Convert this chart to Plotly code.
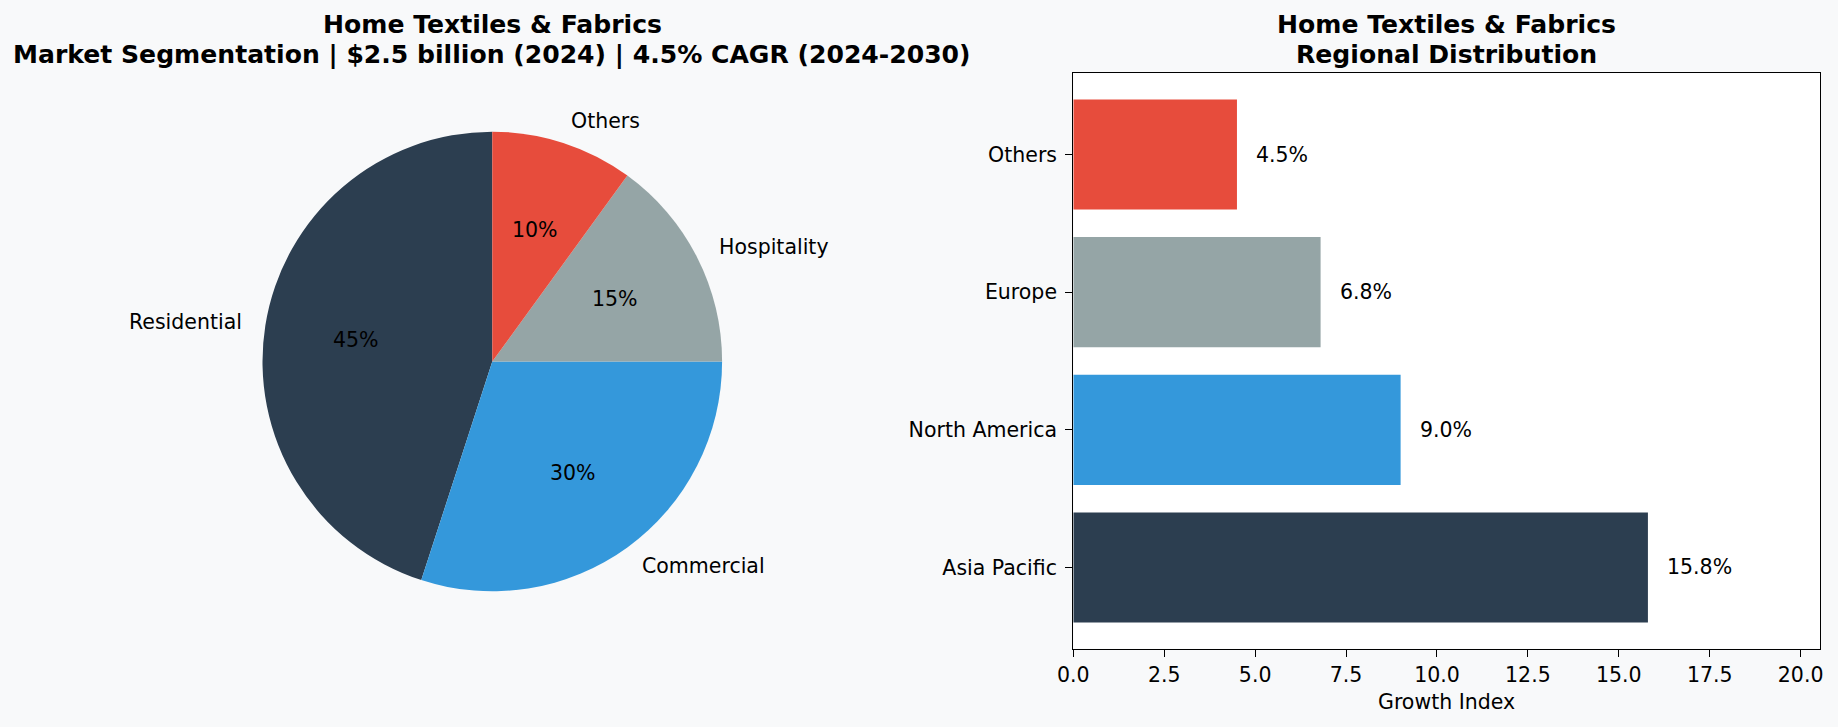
import math
import plotly.graph_objects as go

# ---- data ----
segments = ["Residential", "Commercial", "Hospitality", "Others"]
segment_share = [45, 30, 15, 10]
segment_colors = ["#2c3e50", "#3498db", "#95a5a6", "#e74c3c"]

regions = ["Asia Pacific", "North America", "Europe", "Others"]
region_growth = [15.8, 9.0, 6.8, 4.5]
region_colors = ["#2c3e50", "#3498db", "#95a5a6", "#e74c3c"]

x_ticks = [0, 2.5, 5, 7.5, 10, 12.5, 15, 17.5, 20]

title_left = ["Home Textiles & Fabrics",
              "Market Segmentation | $2.5 billion (2024) | 4.5% CAGR (2024-2030)"]
title_right = ["Home Textiles & Fabrics", "Regional Distribution"]

# ---- layout geometry (pixels) ----
W, H = 1838, 727
FONT = "DejaVu Sans"
LBL = 20.5
TTL = 25.1
BG = "#f8f9fa"

pcx, pcy, pr = 492.3, 361.5, 229.8           # pie centre / radius
ax_l, ax_r, ax_t, ax_b = 1073.3, 1820.3, 73.3, 648.7  # bar axes frame


def px(x):
    return x / W


def py(y):
    return 1 - y / H


total = sum(segment_share)

fig = go.Figure()

# plotly's counterclockwise layout ends the first slice at the rotation angle,
# so rotate back by the first slice so it starts at 12 o'clock (like matplotlib)
fig.add_trace(go.Pie(
    labels=segments, values=segment_share, sort=False,
    direction="counterclockwise", rotation=-360.0 * segment_share[0] / total,
    marker=dict(colors=segment_colors, line=dict(width=0)),
    textinfo="none", hoverinfo="label+percent",
    domain=dict(x=[px(pcx - pr), px(pcx + pr)], y=[py(pcy + pr), py(pcy - pr)]),
    showlegend=False, automargin=False,
))

fig.add_trace(go.Bar(
    x=region_growth, y=regions, orientation="h",
    marker=dict(color=region_colors, line=dict(width=0)),
    width=0.8, showlegend=False, xaxis="x", yaxis="y",
))

annotations = []
# pie labels (outside, 1.1 r) and percentages (inside, 0.6 r)
start = 90.0
for name, v in zip(segments, segment_share):
    sweep = 360.0 * v / total
    mid = math.radians(start + sweep / 2)
    start += sweep
    cx, cy = math.cos(mid), math.sin(mid)
    lx, ly = pcx + 1.1 * pr * cx, pcy - 1.1 * pr * cy
    annotations.append(dict(
        x=px(lx), y=py(ly), xref="paper", yref="paper", text=name,
        showarrow=False, xanchor="left" if cx > 0 else "right", yanchor="middle",
        font=dict(family=FONT, size=LBL, color="black"), borderpad=0,
    ))
    tx, ty = pcx + 0.6 * pr * cx, pcy - 0.6 * pr * cy
    annotations.append(dict(
        x=px(tx), y=py(ty), xref="paper", yref="paper", text=f"{v / total * 100:.0f}%",
        showarrow=False, xanchor="center", yanchor="middle",
        font=dict(family=FONT, size=LBL, color="black"), borderpad=0,
    ))

# bar value labels
for r, v in zip(regions, region_growth):
    annotations.append(dict(
        x=v + 0.5, y=r, xref="x", yref="y", text=f"{v:.1f}%",
        showarrow=False, xanchor="left", yanchor="middle",
        font=dict(family=FONT, size=LBL, color="black"), borderpad=0,
    ))

# titles
for cx_t, lines in ((pcx, title_left), ((ax_l + ax_r) / 2, title_right)):
    for i, line in enumerate(lines):
        annotations.append(dict(
            x=px(cx_t), y=py(24.6 + 29.4 * i), xref="paper", yref="paper",
            text=f"<b>{line}</b>", showarrow=False, xanchor="center", yanchor="middle",
            font=dict(family=FONT, size=TTL, color="black"), borderpad=0,
        ))

# x-axis title
annotations.append(dict(
    x=px((ax_l + ax_r) / 2), y=py(702), xref="paper", yref="paper",
    text="Growth Index", showarrow=False, xanchor="center", yanchor="middle",
    font=dict(family=FONT, size=LBL, color="black"), borderpad=0,
))

fig.update_layout(
    template="none",
    width=W, height=H, autosize=False,
    margin=dict(l=0, r=0, t=0, b=0, pad=0, autoexpand=False),
    paper_bgcolor=BG, plot_bgcolor="white",
    font=dict(family=FONT, size=LBL, color="black"),
    annotations=annotations,
    bargap=0.2,
    xaxis=dict(
        domain=[px(ax_l), px(ax_r)], range=[0, max(region_growth) * 1.3],
        tickvals=x_ticks, ticktext=[f"{t:.1f}" for t in x_ticks],
        ticks="outside", ticklen=7, tickwidth=1.4, tickcolor="black",
        showline=True, linecolor="black", linewidth=1.4, mirror=True,
        showgrid=False, zeroline=False, ticklabelstandoff=0, automargin=False,
        tickfont=dict(family=FONT, size=LBL, color="black"),
    ),
    yaxis=dict(
        domain=[py(ax_b), py(ax_t)], range=[-0.59, 3.59],
        categoryorder="array", categoryarray=regions,
        ticks="outside", ticklen=7, tickwidth=1.4, tickcolor="black",
        showline=True, linecolor="black", linewidth=1.4, mirror=True,
        showgrid=False, zeroline=False, ticklabelstandoff=4, automargin=False,
        tickfont=dict(family=FONT, size=LBL, color="black"),
    ),
)

fig.write_html("out.html")
